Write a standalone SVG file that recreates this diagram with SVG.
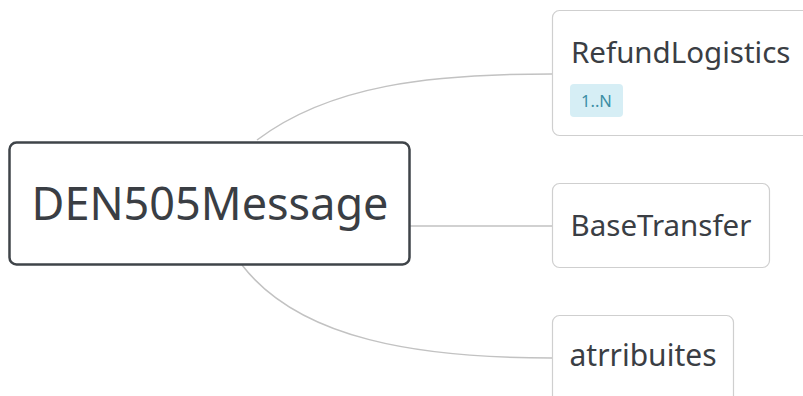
<svg xmlns="http://www.w3.org/2000/svg" width="803" height="396" viewBox="0 0 803 396">
<style>
.root{fill:#fff;stroke:#3f4449;stroke-width:2.5}
.child{fill:#fff;stroke:#cfcfcf;stroke-width:1.2}
.lbl{font-family:"Noto Sans","Open Sans","DejaVu Sans",sans-serif;fill:#3a3e44}
.conn{fill:none;stroke:#c2c2c2;stroke-width:1.5}
</style>
<rect width="803" height="396" fill="#fff"/>
<g id="connectors">
<path class="conn" d="M257,140 C330,85 430,74 552,74"/>
<path class="conn" d="M410,226 L552,226"/>
<path class="conn" d="M242,265 C300,340 420,358 552,358"/>
</g>
<g id="root">
<rect class="root" x="9.5" y="142.5" width="400" height="122" rx="7"/>
<text class="lbl" x="210" y="220" font-size="45" text-anchor="middle">DEN505Message</text>
</g>
<g id="refund">
<rect class="child" x="552.5" y="10.5" width="262" height="125" rx="7"/>
<text class="lbl" x="571" y="63" font-size="29.5">RefundLogistics</text>
<rect x="570" y="84" width="53" height="33" rx="4" fill="#d6eef5"/>
<text x="596.5" y="107" font-size="16.5" text-anchor="middle" font-family="Noto Sans, sans-serif" fill="#3d8ea5">1..N</text>
</g>
<g id="basetransfer">
<rect class="child" x="552.5" y="183.5" width="217" height="84" rx="7"/>
<text class="lbl" x="661" y="236" font-size="29.5" text-anchor="middle">BaseTransfer</text>
</g>
<g id="attributes">
<rect class="child" x="552.5" y="315.5" width="181" height="100" rx="7"/>
<text class="lbl" x="643" y="366" font-size="30" text-anchor="middle">atrribuites</text>
</g>
</svg>
